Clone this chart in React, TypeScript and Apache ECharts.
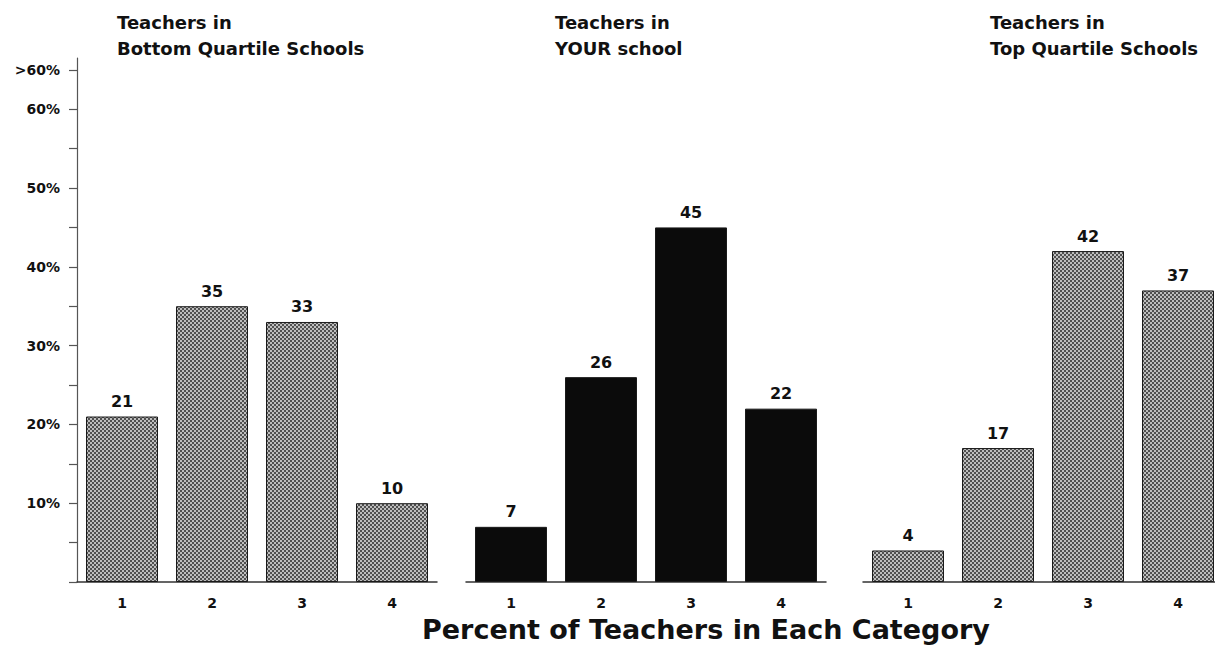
import React, { useEffect, useRef } from "react";
import * as echarts from "echarts";

const categories = ["1", "2", "3", "4"];
const bottomQuartile = [21, 35, 33, 10];
const yourSchool = [7, 26, 45, 22];
const topQuartile = [4, 17, 42, 37];
const panelTitles = [
  "Teachers in\nBottom Quartile Schools",
  "Teachers in\nYOUR school",
  "Teachers in\nTop Quartile Schools",
];
const yTickValues = [0, 5, 10, 15, 20, 25, 30, 35, 40, 45, 50, 55, 60, 65];
const yLabelValues = [10, 20, 30, 40, 50, 60, 65];
const yLabelTexts = ["10%", "20%", "30%", "40%", "50%", "60%", ">60%"];
const axisTitle = "Percent of Teachers in Each Category";

const FONT = '"DejaVu Sans", "Liberation Sans", sans-serif';

export default function App() {
  const ref = useRef<HTMLDivElement>(null);
  useEffect(() => {
    if (!ref.current) return;
    const chart = echarts.init(ref.current, null, { renderer: "svg" });
    const svgTile =
      '<svg xmlns="http://www.w3.org/2000/svg" width="4" height="4">' +
      '<rect width="4" height="4" fill="#505050"/>' +
      '<circle cx="1" cy="1" r="0.95" fill="#eeeeee"/>' +
      '<circle cx="3" cy="3" r="0.95" fill="#eeeeee"/>' +
      "</svg>";
    const pattern = {
      image: "data:image/svg+xml;utf8," + encodeURIComponent(svgTile),
      repeat: "repeat",
      imageWidth: 4,
      imageHeight: 4,
    };
    const gridLefts = [77, 466, 863];
    const titleLefts = [117, 555, 990];
    const seriesData = [bottomQuartile, yourSchool, topQuartile];
    const colors: any[] = [pattern, "#0b0b0b", pattern];

    const option: any = {
      animation: false,
      backgroundColor: "#ffffff",
      title: [
        ...panelTitles.map((t, i) => ({
          text: t,
          left: titleLefts[i],
          top: 9,
          padding: 0,
          textStyle: {
            fontFamily: FONT,
            fontSize: 18,
            fontWeight: "bold",
            lineHeight: 26,
            color: "#111",
          },
        })),
        {
          text: axisTitle,
          left: 422,
          top: 614,
          padding: 0,
          textStyle: {
            fontFamily: FONT,
            fontSize: 27,
            fontWeight: "bold",
            lineHeight: 30,
            color: "#111",
          },
        },
      ],
      grid: gridLefts.map((l) => ({
        left: l,
        width: 360,
        top: 58,
        bottom: 65,
        containLabel: false,
      })),
      xAxis: gridLefts.map((_, i) => ({
        type: "category",
        gridIndex: i,
        data: categories,
        axisLine: { show: true, lineStyle: { color: "#333", width: 1.5 } },
        axisTick: { show: false },
        axisLabel: {
          margin: 14,
          fontFamily: FONT,
          fontSize: 14,
          fontWeight: "bold",
          color: "#111",
        },
      })),
      yAxis: gridLefts.map((_, i) => ({
        type: "value",
        gridIndex: i,
        min: 0,
        max: 66.5,
        show: i === 0,
        splitLine: { show: false },
        axisLine: {
          show: i === 0,
          onZero: false,
          lineStyle: { color: "#555", width: 1.2 },
        },
        axisTick: {
          show: i === 0,
          length: 8,
          customValues: yTickValues,
          lineStyle: { color: "#555", width: 1.2 },
        },
        axisLabel: {
          show: i === 0,
          customValues: yLabelValues,
          margin: 17,
          fontFamily: FONT,
          fontSize: 14,
          fontWeight: "bold",
          color: "#111",
          formatter: (v: number) => {
            const k = yLabelValues.indexOf(v);
            return k >= 0 ? yLabelTexts[k] : "";
          },
        },
      })),
      series: seriesData.map((d, i) => ({
        type: "bar",
        xAxisIndex: i,
        yAxisIndex: i,
        data: d,
        barWidth: 72,
        itemStyle: {
          color: colors[i],
          borderColor: "#1a1a1a",
          borderWidth: 1,
        },
        label: {
          show: true,
          position: "top",
          distance: 7,
          fontFamily: FONT,
          fontSize: 16,
          fontWeight: "bold",
          color: "#111",
        },
      })),
    };
    chart.setOption(option);
    return () => chart.dispose();
  }, []);
  return (
    <div
      ref={ref}
      style={{ position: "fixed", left: 0, top: 0, width: 1225, height: 647 }}
    />
  );
}
